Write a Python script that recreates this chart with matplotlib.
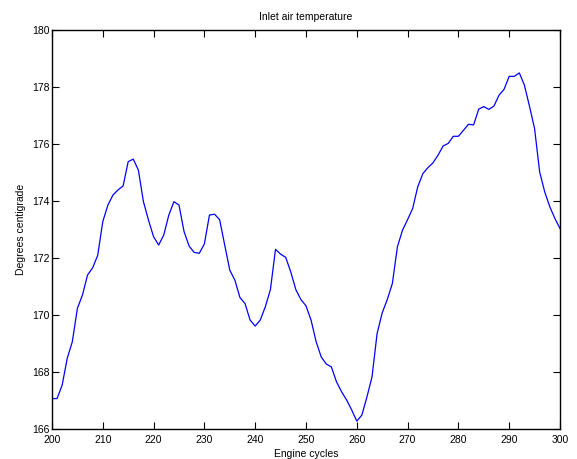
import numpy as np
import matplotlib
matplotlib.use("Agg")
import matplotlib.pyplot as plt

plt.rcParams['font.family'] = ['Liberation Sans', 'DejaVu Sans']

cycles = np.arange(200, 301)
temperature = [
    167.08, 167.08, 167.55, 168.49, 169.07, 170.24, 170.71, 171.41, 171.66, 172.10,
    173.28, 173.86, 174.21, 174.39, 174.53, 175.38, 175.47, 175.09, 173.98, 173.33,
    172.75, 172.46, 172.81, 173.51, 173.98, 173.86, 172.93, 172.42, 172.20, 172.17,
    172.50, 173.51, 173.54, 173.35, 172.46, 171.58, 171.23, 170.62, 170.41, 169.83,
    169.62, 169.83, 170.30, 170.90, 172.31, 172.14, 172.03, 171.52, 170.90, 170.55,
    170.33, 169.83, 169.07, 168.54, 168.29, 168.19, 167.67, 167.32, 167.03, 166.68,
    166.29, 166.50, 167.14, 167.84, 169.36, 170.08, 170.55, 171.11, 172.40, 172.98,
    173.35, 173.74, 174.50, 174.96, 175.17, 175.34, 175.61, 175.93, 176.02, 176.27,
    176.27, 176.48, 176.69, 176.67, 177.22, 177.31, 177.21, 177.33, 177.71, 177.92,
    178.37, 178.37, 178.49, 178.06, 177.32, 176.54, 175.02, 174.32, 173.80, 173.39,
    173.04,
]

x_ticks = np.arange(200, 301, 10)
y_ticks = np.arange(166, 181, 2)

fig = plt.figure(figsize=(5.77, 4.59), dpi=100)
ax = fig.add_axes([0.0901, 0.0645, 0.8804, 0.8705])
ax.plot(cycles, temperature, color='#0000ff', linewidth=0.9)

ax.set_xlim(200, 300)
ax.set_ylim(166, 180)
ax.set_xticks(x_ticks)
ax.set_yticks(y_ticks)
ax.tick_params(direction='in', length=5, width=0.8, labelsize=7.5,
               top=True, right=True, colors='black')
ax.tick_params(axis='x', pad=4)
ax.tick_params(axis='y', pad=2)
for s in ax.spines.values():
    s.set_linewidth(1.0)

ax.set_title('Inlet air temperature', fontsize=7.5, pad=7)
ax.set_xlabel('Engine cycles', fontsize=7.5, labelpad=3)
ax.set_ylabel('Degrees centigrade', fontsize=7.5, labelpad=4)

fig.savefig('out.png', dpi=100)
